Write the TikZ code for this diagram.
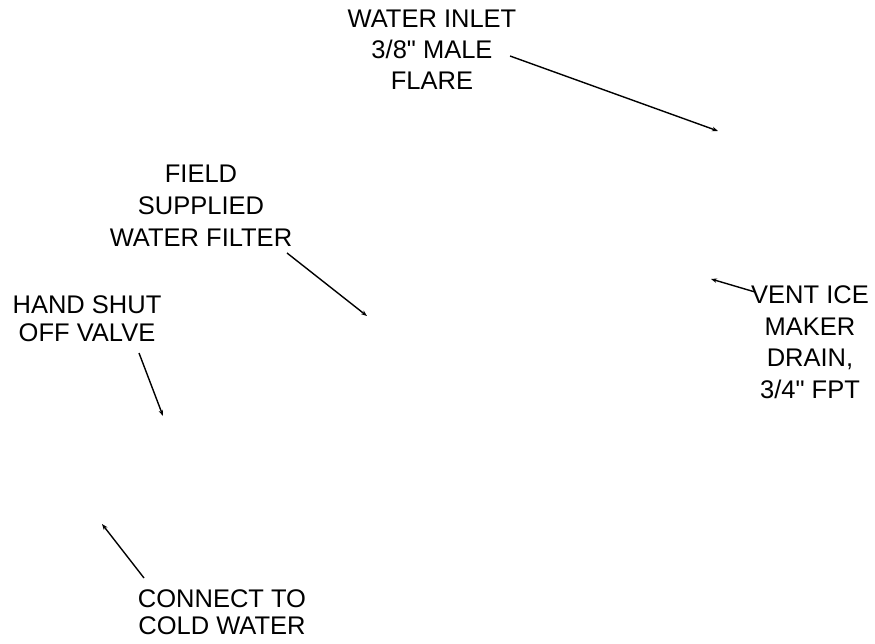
\documentclass[tikz,border=0pt]{standalone}
\usepackage{fontspec}
\setmainfont{Liberation Sans}
\usetikzlibrary{arrows.meta}
\begin{document}
\begin{tikzpicture}[x=1pt,y=-1pt,
  lbl/.style={align=center,inner sep=0pt,anchor=base},
  ptr/.style={line width=1.4pt,-{Stealth[length=6pt,width=4.5pt]}}]
\useasboundingbox (0,0) rectangle (875,644);
\node[lbl,font=\fontsize{25.5}{31}\selectfont] (inlet) at (432,90) {WATER INLET\\3/8\textquotedbl{} MALE\\FLARE};
\node[lbl,font=\fontsize{25.5}{32}\selectfont] (filter) at (201,247) {FIELD\\SUPPLIED\\WATER FILTER};
\node[lbl,font=\fontsize{25.5}{28.5}\selectfont] (valve) at (87,341.5) {HAND SHUT\\OFF VALVE};
\node[lbl,font=\fontsize{25.5}{31.5}\selectfont] (vent) at (810,398) {VENT ICE\\MAKER\\DRAIN,\\3/4\textquotedbl{} FPT};
\node[lbl,font=\fontsize{25.5}{27}\selectfont] (cold) at (222,634) {CONNECT TO\\COLD WATER};
\coordinate (a1s) at (510,56); \coordinate (a1e) at (718,131);
\coordinate (a2s) at (287,253); \coordinate (a2e) at (367,316);
\coordinate (a3s) at (755,292); \coordinate (a3e) at (711,279);
\coordinate (a4s) at (139,353); \coordinate (a4e) at (163,416);
\coordinate (a5s) at (144,578); \coordinate (a5e) at (102,524);
\draw[ptr] (a1s) -- (a1e);
\draw[ptr] (a2s) -- (a2e);
\draw[ptr] (a3s) -- (a3e);
\draw[ptr] (a4s) -- (a4e);
\draw[ptr] (a5s) -- (a5e);
\end{tikzpicture}
\end{document}
